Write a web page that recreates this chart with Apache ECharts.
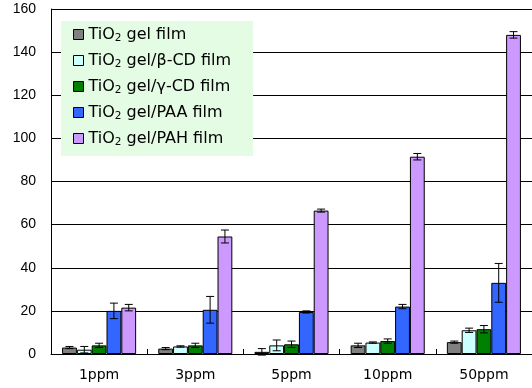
<!DOCTYPE html>
<html><head><meta charset="utf-8">
<script src="https://cdn.jsdelivr.net/npm/echarts@6/dist/echarts.min.js"></script>
<style>html,body{margin:0;padding:0;background:#fff}#c{width:532px;height:388px}</style>
</head><body><div id="c"></div>
<script>
var categories = ['1ppm', '3ppm', '5ppm', '10ppm', '50ppm'];
var seriesNames = ['TiO{s|2} gel film', 'TiO{s|2} gel/β-CD film', 'TiO{s|2} gel/γ-CD film', 'TiO{s|2} gel/PAA film', 'TiO{s|2} gel/PAH film'];
var gelFilm = [3.0, 2.5, 1.0, 4.0, 5.5];
var betaCD = [2.0, 3.5, 4.0, 5.3, 11.0];
var gammaCD = [4.0, 4.0, 4.5, 6.0, 11.5];
var paa = [20.0, 20.5, 19.5, 22.0, 33.0];
var pah = [21.5, 54.5, 66.5, 91.5, 148.0];
var gelErr = [0.5, 0.5, 1.5, 1.0, 0.5];
var betaErr = [1.5, 0.3, 2.5, 0.3, 1.0];
var gammaErr = [1.0, 1.0, 1.5, 1.0, 1.7];
var paaErr = [3.6, 6.2, 0.5, 1.0, 9.0];
var pahErr = [1.5, 3.0, 0.7, 1.5, 1.5];
var yTicks = [0, 20, 40, 60, 80, 100, 120, 140, 160];

var colors = ['#808080', '#CCFFFF', '#008000', '#3366FF', '#CC99FF'];
var values = [gelFilm, betaCD, gammaCD, paa, pah];
var errs = [gelErr, betaErr, gammaErr, paaErr, pahErr];
var catGap = 0.23;

var series = [];
values.forEach(function (v, i) {
  series.push({
    name: seriesNames[i], type: 'bar', data: v, barGap: 0, barCategoryGap: (catGap * 100) + '%',
    itemStyle: { color: colors[i], borderColor: '#000', borderWidth: 1 }
  });
});
values.forEach(function (v, i) {
  series.push({
    type: 'custom', silent: true, z: 10,
    data: v.map(function (val, j) { return [j, val, errs[i][j]]; }),
    renderItem: function (params, api) {
      var x = api.value(0), val = api.value(1), e = api.value(2);
      var bandW = api.size([1, 0])[0];
      var bw = bandW * (1 - catGap) / 5;
      var c = api.coord([x, val]);
      var cx = c[0] + (i - 2) * bw;
      var top = api.coord([x, val + e])[1];
      var bot = api.coord([x, val - e])[1];
      var hw = 4;
      var st = { stroke: '#000', lineWidth: 1 };
      return { type: 'group', children: [
        { type: 'line', shape: { x1: cx, y1: top, x2: cx, y2: bot }, style: st },
        { type: 'line', shape: { x1: cx - hw, y1: top, x2: cx + hw, y2: top }, style: st },
        { type: 'line', shape: { x1: cx - hw, y1: bot, x2: cx + hw, y2: bot }, style: st }
      ]};
    }
  });
});

var chart = echarts.init(document.getElementById('c'));
chart.setOption({
  animation: false,
  textStyle: { fontFamily: 'Liberation Sans, Arial, sans-serif' },
  grid: { left: 51, right: -2, top: 9, bottom: 34, containLabel: false },
  legend: {
    orient: 'vertical', left: 61, top: 21,
    backgroundColor: '#E4FBE4', padding: [4, 22, 8, 12],
    itemWidth: 10, itemHeight: 10, itemGap: 7,
    icon: 'rect',
    data: seriesNames.map(function (n, i) { return { name: n, itemStyle: { color: colors[i], borderColor: '#000', borderWidth: 1 } }; }),
    formatter: function (n) { return n; },
    textStyle: {
      color: '#000', fontSize: 16, lineHeight: 17, fontFamily: 'DejaVu Sans',
      rich: { s: { fontSize: 10.5, padding: [8, 0, 0, 0], lineHeight: 17, color: '#000', fontFamily: 'DejaVu Sans' } }
    }
  },
  xAxis: {
    type: 'category', data: categories,
    axisLine: { lineStyle: { color: '#000', width: 1 } },
    axisTick: { show: true, inside: true, length: 5, lineStyle: { color: '#000' } },
    axisLabel: { color: '#000', fontSize: 14, margin: 14, fontFamily: 'DejaVu Sans' }
  },
  yAxis: {
    type: 'value', min: 0, max: 160, interval: 20,
    axisLine: { show: true, lineStyle: { color: '#000' } },
    axisTick: { show: false },
    splitLine: { lineStyle: { color: '#000', width: 1 } },
    axisLabel: { color: '#000', fontSize: 14, margin: 15,
      formatter: function (v) { return yTicks.indexOf(v) >= 0 ? String(v) : ''; } }
  },
  series: series
});
</script></body></html>
